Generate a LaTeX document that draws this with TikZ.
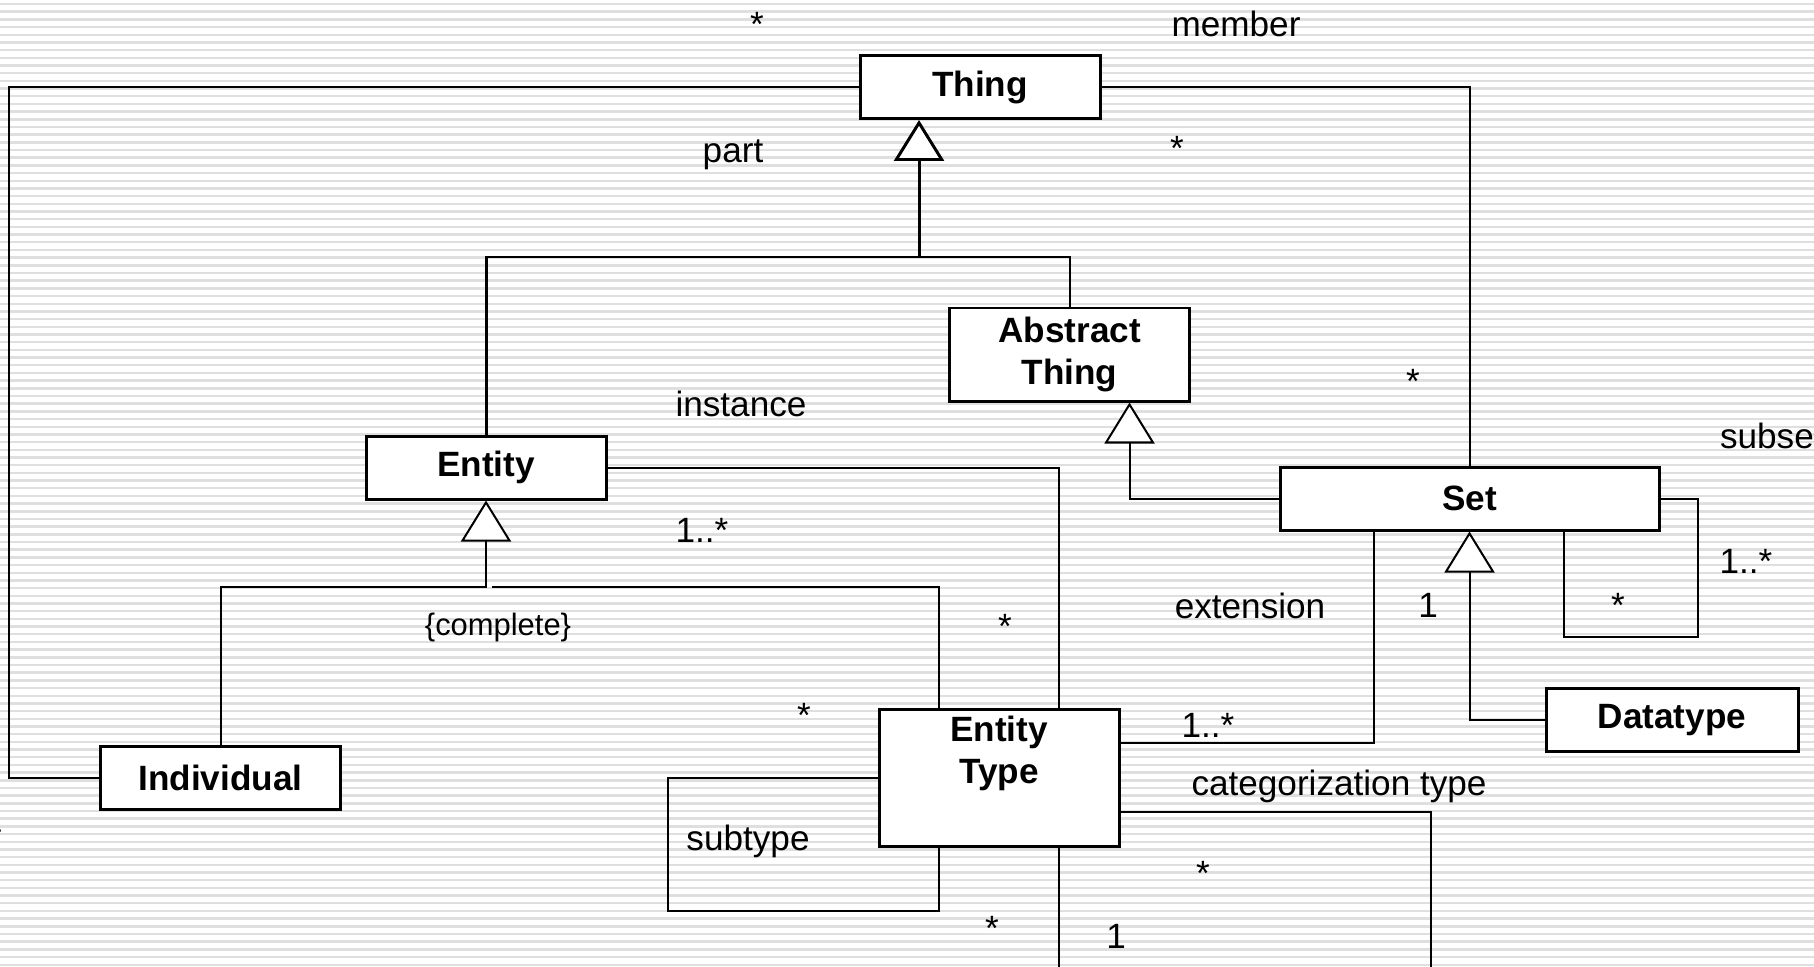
\documentclass[tikz,border=0pt]{standalone}
\usepackage{fontspec}
\setmainfont{Liberation Sans}
\usetikzlibrary{arrows.meta,calc}

\begin{document}
\begin{tikzpicture}[
  font=\fontsize{10}{12}\selectfont,
  line width=0.57pt,
  class/.style={draw=black, fill=white, line width=0.85pt, inner sep=0pt, minimum width=2.40cm, minimum height=0.63cm, align=center, font=\fontsize{10}{12}\selectfont\bfseries},
  lbl/.style={inner sep=0pt, anchor=base},
  isa/.style={-{Triangle[length=4.1mm, width=5mm, fill=white]}},
  stripe/.style={gray!25, line width=0.7pt}]

\useasboundingbox (0,0) rectangle (18.14,9.66);
\fill[white] (0,0) rectangle (18.14,9.66);
\foreach \k in {0,...,125} {
  \draw[stripe] (0,9.62-0.07686*\k) -- (18.14,9.62-0.07686*\k);
}

\node[class] (thing) at (9.80,8.79) {Thing};
\node[class, minimum height=0.93cm] (abstract) at (10.695,6.115) {Abstract\\Thing};
\node[class] (entity) at (4.86,4.985) {Entity};
\node[class, minimum width=3.79cm] (set) at (14.695,4.675) {Set};
\node[class] (individual) at (2.205,1.88) {Individual};
\node[class, minimum height=1.37cm] (etype) at (9.99,1.885) {Entity\\Type\\\strut};
\node[class, minimum width=2.52cm] (datatype) at (16.72,2.46) {Datatype};

\coordinate (thingtip) at ([xshift=-6.1mm]thing.south);
\coordinate (thingjoin) at (9.19,7.09);
\coordinate (entityjoin) at (4.86,3.79);

\draw (thing.west) -- ++(-8.50,0) |- (individual.west);
\draw (thing.east) -| (set.north);
\draw[isa, line width=0.85pt] (entity.north) |- (thingjoin) -- (thingtip);
\draw (thingjoin) -| (abstract.north);
\draw[isa] (set.west) -| ([xshift=6mm]abstract.south);
\draw[isa] (individual.north) |- (entityjoin) -- (entity.south);
\draw ([xshift=-6mm]etype.north) |- ([xshift=0.6mm]entityjoin);
\draw (entity.east) -| ([xshift=6mm]etype.north);
\draw ([yshift=3.45mm]etype.east) -| ([xshift=-9.55mm]set.south);
\draw[isa] (datatype.west) -| (set.south);
\draw (set.east) -| ++(0.37,-1.38) -| ([xshift=9.45mm]set.south);
\draw (etype.west) -| ++(-2.10,-1.335) -| ([xshift=-6mm]etype.south);
\draw ([yshift=-3.45mm]etype.east) -| ++(3.10,-2.00) -| ([xshift=6mm]etype.south);

\foreach \x/\y [count=\i] in {7.57/9.29, 11.77/8.06, 14.13/5.73, 16.18/3.49, 10.05/3.28, 8.04/2.39, 12.03/0.81, 9.92/0.26, -0.05/1.16} {
  \node[lbl] (star\i) at (\x,\y) {*};
}

\node[lbl] (member) at (12.36,9.29) {member};
\node[lbl] (part) at (7.33,8.04) {part};
\node[lbl] (instance) at (7.41,5.50) {instance};
\node[lbl, anchor=base west] (subset) at (17.19,5.18) {subset};
\node[lbl] (m1) at (7.02,4.24) {1..*};
\node[lbl] (m2) at (17.46,3.93) {1..*};
\node[lbl] (m3) at (12.08,2.29) {1..*};
\node[lbl] (extension) at (12.50,3.48) {extension};
\node[lbl] (one1) at (14.28,3.49) {1};
\node[lbl] (one2) at (11.16,0.18) {1};
\node[lbl, font=\fontsize{8.8}{10.5}\selectfont] (complete) at (4.98,3.31) {\{complete\}};
\node[lbl] (cattype) at (13.39,1.71) {categorization type};
\node[lbl] (subtype) at (7.48,1.16) {subtype};

\end{tikzpicture}
\end{document}
